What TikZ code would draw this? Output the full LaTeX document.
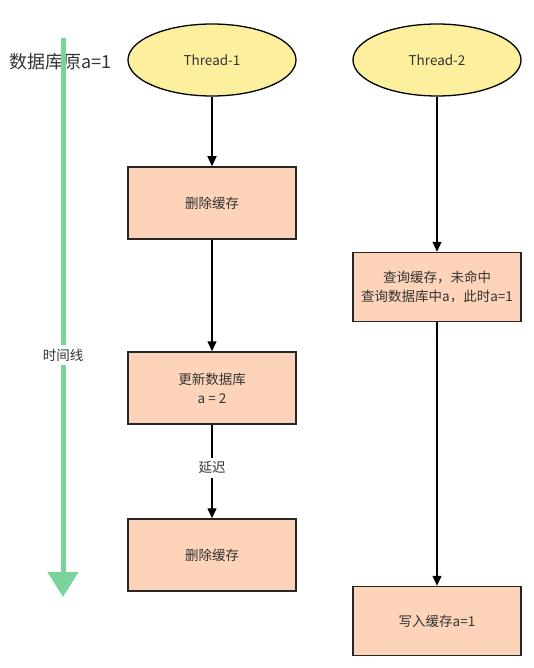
\documentclass[tikz,border=0pt]{standalone}
\usepackage{fontspec}
\setmainfont{Noto Sans CJK SC}
\usetikzlibrary{arrows.meta}
\usetikzlibrary{shapes.geometric}

\definecolor{boxfill}{HTML}{FDD4B9}
\definecolor{thfill}{HTML}{FCF09E}
\definecolor{tlgreen}{HTML}{79D49B}
\definecolor{txt}{HTML}{333333}

\begin{document}
\begin{tikzpicture}[x=1pt,y=-1pt,
  every node/.style={text=txt,font=\fontsize{13.5}{19}\selectfont},
  thread/.style={ellipse,draw=black,line width=1.3pt,fill=thfill,minimum width=168pt,minimum height=72pt,inner sep=0pt},
  stepbox/.style={rectangle,draw=black!85,line width=1.5pt,fill=boxfill,minimum width=168pt,minimum height=72pt,inner sep=0pt,align=center},
  flow/.style={black,line width=1.3pt,-{Triangle[length=10pt,width=9pt]}},
  tline/.style={tlgreen,line width=5pt}]
\useasboundingbox (0,0) rectangle (534,668);

\node[font=\fontsize{18}{22}\selectfont,anchor=west] (db) at (6,62) {数据库原a=1};

% time line
\coordinate (tlTop) at (63,38);
\node[fill=white,inner sep=4pt] (tl) at (63,355) {时间线};
\coordinate (tlEnd) at (63,597);
\draw[tline] (tlTop) -- (tl);
\draw[tline,-{Triangle[length=25pt,width=30pt]}] (tl) -- (tlEnd);

% Thread-1
\node[thread] (thA) at (212,60) {Thread-1};
\node[stepbox] (delA) at (212,203) {删除缓存};
\node[stepbox] (upd) at (212,388) {更新数据库\\a = 2};
\node[stepbox] (delB) at (212,555) {删除缓存};

% Thread-2
\node[thread] (thB) at (437,60) {Thread-2};
\node[stepbox,minimum height=69pt] (qry) at (437,287) {查询缓存，未命中\\查询数据库中a，此时a=1};
\node[stepbox,minimum height=69pt] (wrt) at (437,621) {写入缓存a=1};

\draw[flow] (thA) -- (delA);
\draw[flow] (delA) -- (upd);
\draw[flow] (upd) -- node[fill=white,pos=0.46,inner sep=4pt] (dly) {延迟} (delB);
\draw[flow] (thB) -- (qry);
\draw[flow] (qry) -- (wrt);

\end{tikzpicture}
\end{document}
